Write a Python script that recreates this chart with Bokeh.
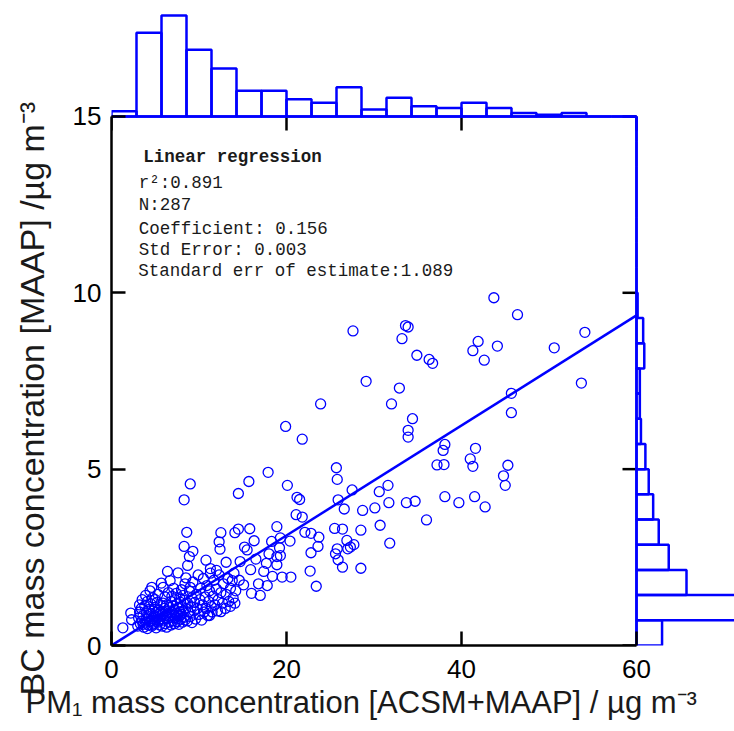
import numpy as np
from bokeh.plotting import figure
from bokeh.models import Range1d, Label, Title
from bokeh.embed import file_html
from bokeh.resources import INLINE

# ---------------- data ----------------
# scatter points: (PM1 [ACSM+MAAP], BC [MAAP]) in ug m-3, grouped by PM1 range
pts_0_3 = [(1.3, 0.50), (2.2, 0.92), (2.3, 0.73)]
pts_3_6 = [(3.0, 0.55), (3.1, 0.78), (3.2, 0.95), (3.3, 0.62), (3.4, 1.05), (3.5, 0.70), (3.6, 0.85),
           (3.7, 0.52), (3.8, 1.12), (3.9, 0.66), (4.0, 0.92), (4.0, 0.75), (4.1, 1.25), (4.2, 0.58),
           (4.3, 0.82), (4.3, 1.02), (4.4, 0.68), (4.5, 0.90), (4.5, 1.18), (4.6, 0.55), (4.7, 0.77),
           (4.7, 1.35), (4.8, 0.98), (4.9, 0.63), (4.9, 0.85), (5.0, 1.08), (5.0, 0.72), (5.1, 0.50),
           (5.1, 0.93), (5.2, 1.22), (5.2, 0.80), (5.3, 0.66), (5.3, 1.45), (5.4, 0.88), (5.4, 1.00),
           (5.5, 0.58), (5.5, 0.75), (5.6, 1.15), (5.6, 0.95), (3.5, 1.30), (3.9, 1.42), (4.4, 1.55),
           (3.2, 1.15), (4.6, 1.65), (5.0, 1.30), (5.4, 0.70), (3.6, 0.60), (4.1, 0.48), (4.8, 0.60)]
pts_6_9 = [(5.8, 0.55), (5.8, 0.90), (5.9, 1.20), (5.9, 1.65), (6.0, 0.72), (6.0, 1.05), (6.1, 0.62),
           (6.1, 1.38), (6.2, 0.85), (6.2, 0.98), (6.3, 0.52), (6.3, 1.15), (6.4, 0.76), (6.4, 2.10),
           (6.5, 0.92), (6.5, 1.50), (6.6, 0.66), (6.6, 1.08), (6.7, 1.84), (6.7, 0.80), (6.8, 1.25),
           (6.8, 0.58), (6.9, 0.95), (6.9, 1.40), (7.0, 0.70), (7.0, 1.12), (7.1, 0.86), (7.1, 1.62),
           (7.2, 0.62), (7.2, 1.02), (7.3, 1.30), (7.3, 0.78), (7.4, 0.92), (7.4, 1.48), (7.5, 0.68),
           (7.5, 1.18), (7.6, 2.06), (7.6, 0.85), (7.7, 1.05), (7.7, 0.60), (7.8, 1.35), (7.8, 0.95),
           (7.9, 0.75), (7.9, 1.22), (8.0, 1.58), (8.0, 0.88), (8.1, 0.66), (8.1, 1.10), (8.2, 1.42),
           (8.2, 0.98), (8.3, 0.80), (8.3, 1.28), (8.4, 1.75), (8.4, 0.72), (8.5, 1.05), (8.5, 1.92),
           (5.7, 1.77)]
pts_9_11 = [(8.7, 0.70), (8.7, 1.20), (8.8, 0.95), (8.9, 1.55), (9.0, 0.82), (9.1, 1.10), (9.2, 1.35),
            (9.2, 0.65), (9.3, 1.80), (9.4, 0.98), (9.5, 1.22), (9.6, 0.75), (9.7, 1.45), (9.8, 1.05),
            (9.9, 2.00), (10.0, 0.88), (10.1, 1.30), (10.2, 1.62), (10.3, 0.72), (10.4, 1.15),
            (10.5, 1.90), (10.6, 0.95), (10.7, 1.38), (10.8, 1.05), (10.9, 1.70), (11.0, 0.85),
            (11.1, 1.25), (11.2, 0.85), (11.2, 1.55), (11.3, 2.05), (11.4, 1.10), (9.0, 1.65)]
pts_11_14 = [(11.5, 0.95), (11.6, 1.40), (11.7, 1.85), (11.8, 1.15), (12.0, 1.60), (12.1, 0.98),
             (12.2, 1.30), (12.3, 2.00), (12.5, 0.96), (12.5, 1.50), (12.7, 1.20), (12.8, 1.75),
             (13.0, 1.05), (13.1, 1.45), (13.3, 1.90), (13.4, 1.25), (13.6, 1.11), (13.6, 1.62),
             (13.8, 1.84), (13.9, 1.35), (14.0, 2.05), (14.1, 1.20), (14.2, 1.55)]
pts_upper_low = [(8.3, 2.81), (9.3, 2.67), (8.9, 2.52), (8.7, 2.27), (8.6, 3.21), (8.3, 4.13), (9.0, 4.58),
                 (10.8, 2.42), (11.3, 2.18), (12.0, 2.13), (12.3, 2.94), (12.4, 2.73), (12.5, 3.20),
                 (13.1, 2.36), (14.1, 3.20)]
pts_14_23 = [(14.5, 4.31), (15.7, 4.65), (17.9, 4.91), (20.1, 4.54), (21.5, 4.14), (21.1, 3.71),
             (21.8, 3.64), (14.5, 3.30), (15.8, 3.31), (18.9, 3.37), (16.3, 2.97), (15.2, 2.79),
             (15.5, 2.71), (18.3, 2.95), (19.3, 3.05), (20.4, 2.96), (19.2, 2.77), (14.7, 2.38),
             (17.7, 2.33), (18.9, 2.52), (18.9, 2.29), (15.1, 1.72), (16.8, 1.75), (17.8, 1.70),
             (18.4, 1.96), (19.5, 1.94), (20.5, 1.94), (16.0, 1.48), (17.0, 1.42), (19.9, 6.21),
             (21.8, 5.85), (22.1, 3.21), (22.8, 3.18), (22.7, 2.11), (22.8, 2.63), (14.6, 1.85),
             (15.9, 2.15), (16.5, 2.45), (17.4, 2.10), (18.0, 2.60), (19.3, 2.55), (21.2, 4.20)]
pts_23_40 = [(23.9, 6.85), (23.7, 3.07), (23.6, 2.81), (23.4, 1.68), (25.5, 3.32), (25.6, 2.60),
             (25.7, 5.04), (27.6, 8.92), (25.8, 4.71), (27.5, 4.41), (25.9, 4.13), (26.6, 3.87),
             (26.4, 3.30), (26.9, 2.98), (27.0, 2.74), (27.7, 2.86), (27.3, 2.79), (25.9, 2.43),
             (26.4, 2.22), (28.5, 3.27), (28.5, 2.19), (25.8, 2.74), (29.1, 7.49), (28.7, 3.83),
             (30.7, 3.41), (30.6, 4.36), (30.1, 3.90), (33.6, 9.07), (33.9, 9.03), (33.2, 8.70),
             (32.9, 7.30), (32.0, 6.85), (33.9, 6.10), (33.9, 5.91), (31.6, 4.54), (31.7, 4.05),
             (33.7, 4.05), (31.8, 2.90), (34.9, 8.23), (36.3, 8.11), (36.7, 8.00), (34.4, 6.43),
             (34.7, 4.09), (36.0, 3.56), (38.1, 5.70), (37.9, 5.53), (37.2, 5.12), (38.0, 5.13),
             (38.1, 4.22), (39.7, 4.05)]
pts_40_60 = [(41.9, 8.62), (41.3, 8.36), (42.6, 8.09), (41.6, 5.59), (41.0, 5.29), (41.3, 5.08),
             (41.5, 4.22), (42.7, 3.93), (43.7, 9.86), (44.1, 8.49), (45.7, 7.15), (45.7, 6.60),
             (45.3, 5.11), (44.8, 4.81), (45.0, 4.54), (46.4, 9.38), (50.6, 8.44), (54.1, 8.88),
             (53.7, 7.44)]

# marginal histograms (counts per bin; 21 bins over each axis range)
pm1_hist_counts = [3, 49, 59, 39, 28, 15, 15, 10, 8, 17, 4, 11, 6, 5, 8, 5, 2, 1, 2, 0, 0]
bc_hist_counts = [23, 112, 45, 29, 20, 15, 11, 8, 4, 3, 3, 7, 6, 1, 0, 0, 0, 0, 0, 0, 0]

# regression statistics
r2 = 0.891
n_pts = 287
coefficient = 0.156
std_error = 0.003
std_err_estimate = 1.089

x_ticks = [0, 20, 40, 60]
y_ticks = [0, 5, 10, 15]
x_max, y_max = 60, 15

x_title = "PM\u2081 mass concentration [ACSM+MAAP] / \u00b5g m\u207b\u00b3"
y_title = "BC mass concentration [MAAP] /\u00b5g m\u207b\u00b3"

# ---------------- layout ----------------
W, H = 734, 731
LEFT, BOTTOM = 111, 86
PX_X = 8.75      # pixels per x unit
PX_Y = 35.27     # pixels per y unit
x_end = (W - LEFT) / PX_X
y_end = (H - BOTTOM) / PX_Y

BLUE = "#0000ff"
FONT = "Liberation Sans"

points = pts_0_3 + pts_3_6 + pts_6_9 + pts_9_11 + pts_11_14 + pts_upper_low + pts_14_23 + pts_23_40 + pts_40_60
pm1 = [p_[0] for p_ in points]
bc = [p_[1] for p_ in points]

p = figure(width=W, height=H, x_range=Range1d(0, x_end), y_range=Range1d(0, y_end),
           output_backend="svg", toolbar_location=None, title=None,
           min_border_left=LEFT, min_border_right=0, min_border_top=0, min_border_bottom=BOTTOM)
p.outline_line_color = None
p.grid.visible = False
p.background_fill_color = "white"
p.border_fill_color = "white"

for ax, ticks, bnd in ((p.xaxis[0], x_ticks, (0, x_max)), (p.yaxis[0], y_ticks, (0, y_max))):
    ax.ticker = ticks
    ax.bounds = bnd
    ax.axis_line_color = "black"
    ax.axis_line_width = 2.5
    ax.major_tick_line_color = "black"
    ax.major_tick_line_width = 2.5
    ax.major_tick_in = 14
    ax.major_tick_out = 0
    ax.minor_tick_line_color = None
    ax.major_label_text_font = FONT
    ax.major_label_text_font_size = "26px"
    ax.major_label_text_color = "black"
p.xaxis.major_label_standoff = 14
p.yaxis.major_label_standoff = 10

# axis titles as side panels (a blank spacer pushes the y title outward)
p.add_layout(Title(text=x_title, align="left", offset=-86, standoff=4,
                   text_font=FONT, text_font_size="31px", text_font_style="normal",
                   text_color="#1a1a1a"), "below")
p.add_layout(Title(text=" ", text_font_size="16px", standoff=0), "left")
p.add_layout(Title(text=y_title, align="left", offset=-50, standoff=0,
                   text_font=FONT, text_font_size="34px", text_font_style="normal",
                   text_color="#1a1a1a"), "left")

# ticks on the top and right edges of the main box
tick_len_y = 14 / PX_Y
tick_len_x = 14 / PX_X
p.segment(x0=x_ticks, y0=[y_max] * len(x_ticks), x1=x_ticks, y1=[y_max - tick_len_y] * len(x_ticks),
          line_color="black", line_width=2.5)
p.segment(x0=[x_max] * len(y_ticks), y0=y_ticks, x1=[x_max - tick_len_x] * len(y_ticks), y1=y_ticks,
          line_color="black", line_width=2.5)

# marginal histograms
top_scale = 0.0485  # y units per count
right_scale = 0.127 # x units per count
xe = np.linspace(0, x_max, len(pm1_hist_counts) + 1)
ye = np.linspace(0, y_max, len(bc_hist_counts) + 1)
p.quad(left=xe[:-1], right=xe[1:], bottom=y_max,
       top=[y_max + c * top_scale for c in pm1_hist_counts],
       fill_color=None, line_color=BLUE, line_width=2.5)
p.quad(left=x_max, right=[x_max + c * right_scale for c in bc_hist_counts],
       bottom=ye[:-1], top=ye[1:], fill_color=None, line_color=BLUE, line_width=2.5)
p.segment(x0=[0, x_max], y0=[y_max, 0], x1=[x_max, x_max], y1=[y_max, y_max],
          line_color=BLUE, line_width=2.5)

# scatter and fit
p.scatter(pm1, bc, marker="circle", size=10, fill_color=None, line_color=BLUE, line_width=1.3)
p.line([0, x_max], [0, coefficient * x_max], line_color=BLUE, line_width=2.5)

# statistics text
MONO = "Liberation Mono"
stats = [
    ("Linear regression", 3.62, 13.84, "bold"),
    ("r\u00b2:%.3f" % r2, 3.12, 13.10, "normal"),
    ("N:%d" % n_pts, 3.12, 12.48, "normal"),
    ("Coefficient: %.3f" % coefficient, 3.12, 11.82, "normal"),
    ("Std Error: %.3f" % std_error, 3.12, 11.20, "normal"),
    ("Standard err of estimate:%.3f" % std_err_estimate, 3.05, 10.63, "normal"),
]
for txt, tx, ty, style in stats:
    p.add_layout(Label(x=tx, y=ty, text=txt, text_font=MONO, text_font_size="17.5px",
                       text_font_style=style, text_color="#1a1a1a", text_baseline="middle",
                       text_align="left"))

open("out.html", "w").write(file_html(p, INLINE))
